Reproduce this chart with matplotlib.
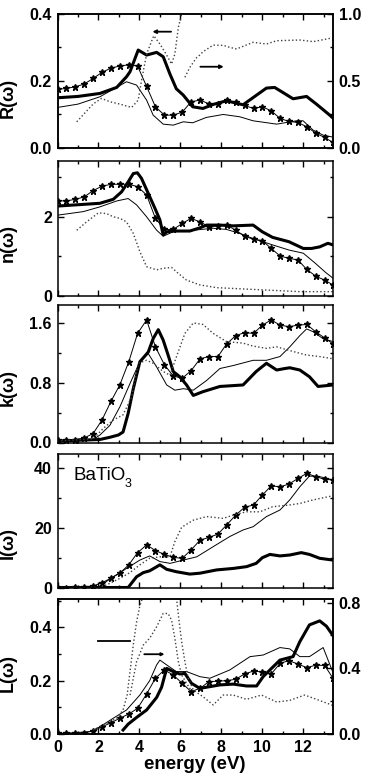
import numpy as np
import matplotlib.pyplot as plt
from matplotlib.ticker import MultipleLocator

plt.rcParams['font.family'] = ['Liberation Sans', 'DejaVu Sans']
plt.rcParams['font.weight'] = 'bold'
plt.rcParams['axes.linewidth'] = 1.1

# energy grid of the starred curve (same in every panel)
star_e = [0.0, 0.43, 0.87, 1.3, 1.74, 2.17, 2.61, 3.04, 3.48, 3.91, 4.35, 4.78,
          5.22, 5.65, 6.09, 6.52, 6.96, 7.39, 7.83, 8.26, 8.7, 9.13, 9.57, 10.0,
          10.43, 10.87, 11.3, 11.74, 12.17, 12.61, 13.04, 13.45]

#### R(w)
r_thick_e = [0.0, 1.0, 2.07, 2.89, 3.37, 3.54, 3.94, 4.35, 4.84, 5.16, 5.49, 5.8, 6.14,
             6.6, 7.1, 7.6, 8.25, 9.06, 9.72, 10.2, 10.6, 11.0, 11.5, 12.16, 12.64, 13.29, 13.45]
r_thick = [0.149, 0.153, 0.162, 0.18, 0.212, 0.227, 0.292, 0.277, 0.285, 0.272, 0.22, 0.176, 0.157,
           0.122, 0.117, 0.129, 0.14, 0.128, 0.157, 0.178, 0.18, 0.165, 0.146, 0.153, 0.13, 0.097, 0.088]
r_thin_e = [0.0, 1.0, 2.07, 3.37, 3.86, 4.35, 4.67, 5.16, 5.65, 6.14, 6.6, 7.26, 8.09, 8.9,
            9.55, 10.7, 11.67, 11.99, 12.48, 12.97, 13.45]
r_thin = [0.12, 0.13, 0.152, 0.197, 0.187, 0.142, 0.097, 0.07, 0.067, 0.077, 0.074, 0.09, 0.099,
          0.092, 0.08, 0.07, 0.08, 0.08, 0.052, 0.037, 0.031]
r_star = [0.174, 0.177, 0.182, 0.19, 0.207, 0.225, 0.238, 0.244, 0.248, 0.244, 0.183, 0.122,
          0.097, 0.097, 0.106, 0.137, 0.142, 0.131, 0.13, 0.141, 0.135, 0.126, 0.117, 0.122,
          0.11, 0.087, 0.078, 0.075, 0.062, 0.043, 0.03, 0.015]
r_dot_e = [0.94, 1.75, 2.15, 2.56, 3.05, 3.62, 3.94, 4.1, 4.35, 4.7, 5.0, 5.3, 5.57, 5.73, 5.9, 6.06, 6.12]
r_dot = [0.077, 0.131, 0.147, 0.137, 0.13, 0.12, 0.142, 0.2, 0.28, 0.335, 0.31, 0.28, 0.25, 0.28,
         0.36, 0.4, 0.43]
# dotted curve read on the right-hand scale
r_dot2_e = [6.22, 6.46, 6.8, 6.95, 7.1, 7.6, 8.1, 8.41, 8.74, 9.55, 10.2, 10.7, 11.83, 12.48, 13.45]
r_dot2 = [0.526, 0.6, 0.675, 0.693, 0.717, 0.767, 0.765, 0.75, 0.738, 0.788, 0.775, 0.8, 0.805,
          0.793, 0.822]

#### n(w)
n_thick_e = [0.0, 2.07, 2.72, 3.13, 3.45, 3.7, 3.9, 4.1, 4.43, 4.76, 5.0, 5.16, 5.33, 5.65, 6.46,
             6.95, 7.28, 7.93, 8.58, 9.55, 10.0, 10.5, 11.3, 12.0, 12.4, 12.8, 13.2, 13.45]
n_thick = [2.27, 2.34, 2.44, 2.63, 2.88, 3.09, 3.11, 2.97, 2.59, 2.21, 1.92, 1.54, 1.62, 1.64, 1.64,
           1.72, 1.79, 1.79, 1.77, 1.79, 1.62, 1.48, 1.37, 1.2, 1.2, 1.24, 1.33, 1.29]
n_thin_e = [0.0, 1.26, 2.07, 2.9, 3.45, 3.86, 4.35, 4.84, 5.16, 5.65, 6.63, 7.6, 8.25, 8.9, 9.55,
            10.5, 11.3, 12.0, 12.6, 13.1, 13.45]
n_thin = [2.04, 2.13, 2.25, 2.4, 2.46, 2.3, 2.0, 1.66, 1.51, 1.62, 1.66, 1.71, 1.68, 1.58, 1.45,
          1.29, 1.16, 1.08, 0.82, 0.59, 0.45]
n_star = [2.4, 2.4, 2.44, 2.5, 2.66, 2.77, 2.82, 2.82, 2.82, 2.76, 2.55, 1.96, 1.68, 1.68, 1.83,
          1.96, 1.87, 1.75, 1.77, 1.79, 1.66, 1.51, 1.43, 1.4, 1.2, 1.01, 0.95, 0.91, 0.67, 0.5,
          0.4, 0.28]
n_dot_e = [0.94, 1.42, 2.0, 2.4, 2.72, 3.05, 3.37, 3.7, 4.02, 4.35, 4.84, 5.16, 5.57, 5.9, 6.3,
           6.95, 7.77, 8.58, 10.2, 11.83, 13.45]
n_dot = [1.66, 1.87, 2.1, 2.08, 2.0, 1.96, 1.87, 1.58, 1.12, 0.74, 0.66, 0.7, 0.72, 0.57, 0.4,
         0.28, 0.21, 0.19, 0.15, 0.11, 0.11]

#### k(w)
k_thick_e = [0.0, 2.07, 2.56, 2.97, 3.2, 3.45, 3.7, 4.02, 4.43, 4.67, 4.92, 5.16, 5.4, 5.65, 5.97,
             6.3, 6.63, 7.1, 7.93, 9.06, 9.7, 10.2, 10.7, 11.1, 11.34, 11.83, 12.3, 12.72, 13.45]
k_thick = [0.02, 0.04, 0.07, 0.1, 0.14, 0.39, 0.72, 1.08, 1.21, 1.39, 1.51, 1.37, 1.17, 0.95, 0.88,
           0.77, 0.63, 0.68, 0.75, 0.77, 0.95, 1.06, 0.97, 0.99, 1.0, 0.97, 0.88, 0.75, 0.77]
k_thin_e = [0.0, 1.75, 2.07, 2.56, 3.05, 3.54, 4.02, 4.43, 4.84, 5.33, 5.73, 6.14, 6.63, 7.28, 7.93,
            8.58, 9.55, 10.2, 10.86, 11.34, 11.83, 12.16, 12.5, 12.96, 13.45]
k_thin = [0.02, 0.04, 0.1, 0.23, 0.48, 0.79, 1.08, 1.19, 1.01, 0.77, 0.7, 0.72, 0.7, 0.83, 0.99,
          1.03, 1.1, 1.1, 1.15, 1.28, 1.43, 1.52, 1.48, 1.39, 1.35]
k_star = [0.03, 0.03, 0.04, 0.06, 0.12, 0.3, 0.55, 0.77, 1.08, 1.46, 1.64, 1.28, 1.04, 0.89, 0.86,
          0.96, 1.12, 1.15, 1.15, 1.32, 1.43, 1.47, 1.46, 1.57, 1.64, 1.57, 1.55, 1.57, 1.58, 1.48,
          1.4, 1.32]
k_dot_e = [0.0, 1.75, 2.24, 2.72, 3.2, 3.62, 3.94, 4.35, 4.67, 5.16, 5.49, 5.81, 6.22, 6.63, 7.1,
           7.6, 8.25, 9.06, 9.55, 10.2, 10.7, 11.34, 12.16, 12.8, 13.45]
k_dot = [0.02, 0.05, 0.19, 0.3, 0.37, 0.61, 1.06, 1.1, 1.06, 0.95, 0.9, 1.15, 1.46, 1.6, 1.58,
         1.46, 1.35, 1.33, 1.29, 1.26, 1.28, 1.23, 1.17, 1.15, 1.12]

#### I(w)
i_thick_e = [0.0, 3.45, 3.54, 3.86, 4.19, 4.5, 5.0, 5.33, 5.8, 6.46, 6.95, 7.77, 8.58, 9.23, 9.7,
             10.0, 10.37, 10.86, 11.34, 11.9, 12.3, 12.8, 13.45]
i_thick = [0.0, 0.0, 0.8, 3.6, 5.0, 5.6, 7.6, 6.1, 5.3, 4.5, 4.8, 5.9, 6.4, 7.0, 8.1, 10.0, 11.1,
           10.6, 10.9, 11.7, 11.1, 9.8, 9.2]
i_thin_e = [0.0, 1.9, 2.07, 2.72, 3.37, 4.02, 4.5, 5.0, 5.5, 6.14, 6.8, 7.6, 8.41, 9.06, 9.55,
            10.2, 10.86, 11.34, 11.83, 12.3, 12.8, 13.45]
i_thin = [0.0, 0.0, 0.5, 3.6, 6.4, 9.2, 10.6, 8.7, 8.1, 9.2, 10.3, 13.7, 17.1, 19.3, 20.4, 23.8,
          26.0, 29.4, 33.8, 37.4, 37.2, 36.1]
i_star = [0.0, 0.0, 0.1, 0.3, 0.5, 1.6, 3.1, 4.8, 7.6, 11.7, 14.3, 12.4, 11.1, 10.1, 9.8, 12.6,
          15.9, 16.8, 17.9, 21.0, 24.3, 26.9, 27.7, 31.0, 34.1, 33.8, 34.7, 36.6, 38.3, 37.2,
          36.3, 36.1]
i_dot_e = [0.0, 2.07, 2.56, 3.05, 3.54, 4.02, 4.5, 5.0, 5.49, 5.73, 6.06, 6.63, 7.28, 8.09, 8.58,
           9.23, 9.88, 10.5, 11.34, 11.83, 12.48, 13.45]
i_dot = [0.0, 0.0, 1.4, 3.1, 5.0, 7.6, 9.8, 10.3, 10.3, 15.4, 20.2, 22.6, 23.8, 23.2, 24.3, 25.4,
         25.4, 27.1, 27.7, 28.2, 29.4, 30.8]

#### L(w)
l_thick_e = [3.2, 3.45, 3.86, 4.35, 4.84, 5.08, 5.33, 5.65, 5.97, 6.22, 6.54, 6.95, 7.93, 8.58,
             9.23, 9.72, 10.04, 10.37, 10.86, 11.5, 11.83, 12.3, 12.8, 13.13, 13.45]
l_thick = [0.015, 0.037, 0.062, 0.09, 0.137, 0.175, 0.246, 0.234, 0.225, 0.227, 0.19, 0.171, 0.184,
           0.187, 0.18, 0.18, 0.215, 0.24, 0.277, 0.29, 0.346, 0.409, 0.424, 0.404, 0.369]
l_thin_e = [0.0, 1.59, 2.07, 2.72, 3.37, 4.02, 4.5, 4.84, 5.0, 5.33, 5.8, 6.3, 6.95, 7.44, 8.41,
            9.4, 10.04, 10.86, 11.34, 11.83, 12.3, 12.97, 13.45]
l_thin = [0.0, 0.009, 0.027, 0.059, 0.09, 0.146, 0.2, 0.259, 0.277, 0.259, 0.234, 0.234, 0.215,
          0.209, 0.24, 0.29, 0.296, 0.324, 0.319, 0.29, 0.29, 0.324, 0.23]
l_star = [0.003, 0.003, 0.003, 0.005, 0.011, 0.027, 0.042, 0.059, 0.075, 0.096, 0.15, 0.209, 0.24,
          0.221, 0.19, 0.159, 0.171, 0.196, 0.198, 0.2, 0.205, 0.225, 0.236, 0.232, 0.225, 0.265,
          0.275, 0.262, 0.249, 0.258, 0.257, 0.209]
# left-scale dotted curve, leaves the top of the frame between the two parts
l_dot_rise_e = [1.75, 2.89, 3.2, 3.4, 3.54, 3.7, 3.86, 4.02, 4.15]
l_dot_rise = [0.015, 0.059, 0.09, 0.146, 0.234, 0.334, 0.42, 0.48, 0.51]
l_dot_fall_e = [5.81, 5.9, 6.06, 6.22, 6.38, 6.63, 7.1, 7.6, 8.09, 8.58, 9.23, 9.96, 10.7, 11.34,
                12.07, 12.64, 13.45]
l_dot_fall = [0.51, 0.446, 0.346, 0.271, 0.209, 0.165, 0.14, 0.109, 0.146, 0.146, 0.13, 0.146, 0.12,
              0.126, 0.146, 0.13, 0.107]
# right-scale dotted curve
l_dot2_e = [3.54, 3.86, 4.19, 4.5, 4.84, 5.16, 5.4, 5.57, 5.73, 5.9, 6.06, 6.3, 6.5]
l_dot2 = [0.237, 0.44, 0.542, 0.583, 0.653, 0.734, 0.734, 0.693, 0.583, 0.44, 0.359, 0.309, 0.27]

ylabels = ['R(ω)', 'n(ω)', 'k(ω)', 'I(ω)', 'L(ω)']
xticks = [0, 2, 4, 6, 8, 10, 12]

W, H = 365.0, 783.0
tops = [14, 160.5, 305, 454, 599]
bots = [147.5, 296, 442.5, 587.5, 734]
left_px, right_px = 57.5, 333.0
ylims = [(0, 0.4), (0, 3.42), (0, 1.84), (0, 44.8), (0, 0.506)]
majors = [0.2, 2, 0.8, 20, 0.2]
label_y = [0.37, 0.39, 0.40, 0.33, 0.45]


def style_ticks(a):
    a.tick_params(which='both', direction='in', labelsize=11.5, width=1.0, pad=4)
    a.tick_params(which='major', length=4)
    a.tick_params(which='minor', length=2.5)


fig = plt.figure(figsize=(W / 100, H / 100), dpi=100)
axes = []
for i in range(5):
    ax = fig.add_axes([left_px / W, 1 - bots[i] / H,
                       (right_px - left_px) / W, (bots[i] - tops[i]) / H])
    ax.set_xlim(0, 13.45)
    ax.set_ylim(*ylims[i])
    ax.xaxis.set_major_locator(MultipleLocator(2))
    ax.xaxis.set_minor_locator(MultipleLocator(1))
    ax.yaxis.set_major_locator(MultipleLocator(majors[i]))
    ax.yaxis.set_minor_locator(MultipleLocator(majors[i] / 2))
    style_ticks(ax)
    ax.tick_params(which='both', top=True, right=(i not in (0, 4)))
    if i < 4:
        ax.tick_params(labelbottom=False)
    ax.set_ylabel(ylabels[i], fontsize=13, fontweight='bold')
    ax.yaxis.set_label_coords(-0.147, label_y[i])
    axes.append(ax)

thick = dict(color='k', lw=2.2)
thin = dict(color='k', lw=0.7)
star = dict(color='k', lw=0.7, marker='*', ms=4.5)
dot = dict(color='0.25', lw=1.0, ls=':')
head = dict(arrowstyle='-|>', color='k', lw=1.3, mutation_scale=5)

### R panel
ax = axes[0]
ax.plot(r_thick_e, r_thick, **thick)
ax.plot(r_thin_e, r_thin, **thin)
ax.plot(star_e, r_star, **star)
ax.plot(r_dot_e, r_dot, **dot)
ax.yaxis.set_major_formatter(plt.FormatStrFormatter('%.1f'))
axr = ax.twinx()
axr.set_ylim(0, 1.0)
axr.yaxis.set_major_locator(MultipleLocator(0.5))
axr.yaxis.set_minor_locator(MultipleLocator(0.25))
style_ticks(axr)
axr.yaxis.set_major_formatter(plt.FormatStrFormatter('%.1f'))
axr.plot(r_dot2_e, r_dot2, **dot)
ax.annotate('', xy=(4.5, 0.347), xytext=(5.68, 0.347), arrowprops=head)
ax.annotate('', xy=(8.25, 0.242), xytext=(6.84, 0.242), arrowprops=head)

### n panel
ax = axes[1]
ax.plot(n_thick_e, n_thick, **thick)
ax.plot(n_thin_e, n_thin, **thin)
ax.plot(star_e, n_star, **star)
ax.plot(n_dot_e, n_dot, **dot)

### k panel
ax = axes[2]
ax.plot(k_thick_e, k_thick, **thick)
ax.plot(k_thin_e, k_thin, **thin)
ax.plot(star_e, k_star, **star)
ax.plot(k_dot_e, k_dot, **dot)
ax.yaxis.set_major_formatter(plt.FormatStrFormatter('%.1f'))

### I panel
ax = axes[3]
ax.plot(i_thick_e, i_thick, **thick)
ax.plot(i_thin_e, i_thin, **thin)
ax.plot(star_e, i_star, **star)
ax.plot(i_dot_e, i_dot, **dot)
ax.text(0.76, 37.7, 'BaTiO', fontsize=13.5, fontweight='normal', va='center')
ax.text(3.28, 34.8, '3', fontsize=9, fontweight='normal', va='center')

### L panel
ax = axes[4]
ax.plot(l_thick_e, l_thick, **thick)
ax.plot(l_thin_e, l_thin, **thin)
ax.plot(star_e, l_star, **star)
ax.plot(l_dot_rise_e, l_dot_rise, **dot)
ax.plot(l_dot_fall_e, l_dot_fall, **dot)
ax.yaxis.set_major_formatter(plt.FormatStrFormatter('%.1f'))
ax.set_xticks(xticks)
ax.set_xlabel('energy (eV)', fontsize=13.5, fontweight='bold', labelpad=1)
axr = ax.twinx()
axr.set_ylim(0, 0.822)
axr.yaxis.set_major_locator(MultipleLocator(0.4))
axr.yaxis.set_minor_locator(MultipleLocator(0.2))
style_ticks(axr)
axr.yaxis.set_major_formatter(plt.FormatStrFormatter('%.1f'))
axr.plot(l_dot2_e, l_dot2, **dot)
ax.plot([2.0, 3.54], [0.349, 0.349], color='k', lw=1.3)
ax.annotate('', xy=(5.36, 0.299), xytext=(4.1, 0.299),
            arrowprops=dict(head, mutation_scale=4))

fig.savefig('out.png', dpi=100)
